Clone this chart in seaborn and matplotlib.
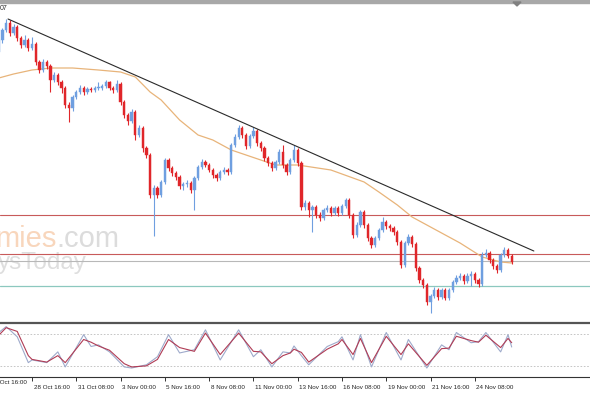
import numpy as np
import pandas as pd
import matplotlib
matplotlib.use("Agg")
import matplotlib.pyplot as plt
import seaborn as sns
from matplotlib.transforms import ScaledTranslation
from matplotlib.patches import Rectangle, Polygon

sns.set_theme(style="white")
plt.rcParams['font.family'] = ['Liberation Sans', 'DejaVu Sans']

# ---------------- data (price in chart units) ----------------
first_open = 278
closes = [290, 300, 307, 297, 303, 292, 285, 290, 282, 286,
          268, 260, 268, 264, 250, 255, 248, 242, 225, 222,
          233, 238, 242, 238, 241, 240, 242, 242, 244, 248,
          242, 240, 246, 228, 215, 209, 218, 195, 202, 182,
          175, 135, 142, 135, 148, 170, 162, 157, 153, 144,
          146, 147, 140, 152, 163, 168, 165, 160, 155, 152,
          158, 160, 158, 185, 193, 202, 195, 184, 194, 199,
          187, 182, 172, 167, 162, 168, 178, 165, 158, 170,
          180, 167, 123, 127, 120, 123, 115, 112, 120, 122,
          117, 122, 117, 124, 130, 115, 95, 105, 118, 105,
          92, 85, 92, 100, 108, 104, 102, 98, 88, 65,
          87, 93, 86, 62, 50, 45, 28, 34, 40, 33,
          40, 32, 40, 48, 52, 54, 49, 54, 56, 50,
          46, 75, 77, 70, 64, 60, 75, 80, 74, 68]
highs = [293, 302, 311, 310, 306, 305, 294, 295, 292, 293,
         288, 270, 271, 270, 266, 258, 257, 250, 244, 228,
         235, 240, 245, 244, 243, 243, 244, 248, 246, 250,
         249, 244, 250, 248, 230, 217, 221, 220, 205, 204,
         184, 177, 145, 144, 150, 172, 172, 164, 159, 155,
         148, 150, 149, 154, 165, 171, 170, 167, 162, 157,
         160, 163, 162, 187, 196, 205, 204, 197, 196, 203,
         201, 189, 184, 174, 169, 170, 181, 185, 167, 172,
         185, 182, 169, 130, 129, 125, 125, 118, 122, 125,
         124, 124, 124, 126, 132, 132, 117, 108, 120, 120,
         107, 94, 94, 102, 113, 110, 106, 104, 100, 90,
         89, 96, 95, 88, 64, 52, 47, 36, 43, 42,
         42, 42, 42, 50, 55, 57, 56, 57, 59, 58,
         52, 78, 81, 79, 72, 66, 77, 83, 82, 76]
lows = [275, 287, 298, 294, 295, 289, 282, 283, 279, 280,
        265, 257, 258, 261, 238, 248, 245, 237, 222, 208,
        219, 231, 236, 235, 236, 238, 238, 240, 240, 242,
        240, 237, 238, 225, 212, 205, 207, 190, 193, 178,
        172, 132, 94, 132, 133, 146, 159, 154, 150, 141,
        140, 143, 137, 120, 150, 161, 163, 158, 152, 149,
        150, 156, 155, 156, 183, 191, 192, 181, 182, 192,
        184, 179, 169, 164, 159, 160, 166, 162, 155, 156,
        168, 164, 120, 120, 113, 98, 112, 109, 110, 118,
        114, 115, 114, 115, 122, 112, 92, 93, 103, 102,
        89, 82, 83, 90, 98, 101, 99, 95, 85, 62,
        63, 85, 83, 59, 47, 42, 25, 17, 32, 30,
        31, 30, 30, 38, 46, 50, 46, 47, 44, 47,
        43, 44, 73, 67, 61, 57, 58, 73, 72, 66]

ma_bars = [0, 4, 9, 14, 20, 27, 33, 37, 41, 44, 49, 54, 58, 63, 67, 71, 75,
           81, 90, 99, 103, 108, 112, 117, 125, 131, 136, 139]
ma_vals = [252, 256, 260, 262, 262, 260, 258, 253, 238, 230, 210, 195, 190,
           180, 175, 170, 165, 165, 160, 148, 138, 125, 113, 103, 87, 73, 68, 67]

trend_bars = [2.5, 145]
trend_vals = [311, 79]

red_levels = [115, 76.5]
gray_level = 69
teal_level = 44

stoch_bars = [0, 2, 5, 8, 9, 13, 16, 18, 23, 25, 27, 30, 34, 36, 40, 43, 46,
              49, 53, 56, 60, 65, 69, 71, 74, 77, 79, 80, 82, 84, 89, 92, 93,
              96, 98, 101, 105, 109, 111, 116, 120, 122, 124, 128, 130, 132,
              136, 138, 139]
stoch_main = [83, 94, 75, 27, 32, 27, 47, 19, 79, 57, 60, 47, 19, 17, 23, 38,
              79, 45, 51, 88, 32, 88, 38, 51, 19, 47, 45, 58, 40, 23, 57, 66,
              75, 32, 79, 19, 83, 32, 70, 17, 60, 51, 83, 64, 66, 83, 47, 79, 56]
stoch_signal = [78, 92, 85, 40, 33, 28, 40, 27, 70, 65, 58, 50, 25, 19, 21, 33,
                70, 55, 48, 82, 42, 82, 48, 47, 25, 40, 45, 52, 46, 28, 52, 62,
                70, 42, 72, 27, 76, 42, 62, 22, 53, 54, 76, 68, 65, 78, 55, 72, 64]
stoch_levels = [80, 20]

tick_bars = [9, 21, 33, 45, 57, 69, 81, 93, 105, 117, 129]
tick_labels = ["28 Oct 16:00", "31 Oct 08:00", "3 Nov 00:00", "5 Nov 16:00",
               "8 Nov 08:00", "11 Nov 00:00", "13 Nov 16:00", "16 Nov 08:00",
               "19 Nov 00:00", "21 Nov 16:00", "24 Nov 08:00"]
partial_bar = -3
partial_label = "25 Oct 16:00"

# ---------------- frame ----------------
W, H = 590, 393
fig = plt.figure(figsize=(W / 100, H / 100), dpi=100)
fig.patch.set_facecolor("white")

def fy(px):
    return 1 - px / H

ax = fig.add_axes([0, fy(320), 1, fy(3) - fy(320)])
ax2 = fig.add_axes([0, fy(377), 1, fy(322.5) - fy(377)])

XL = (0.325, 0.325 + W / 3.69)
for a in (ax, ax2):
    a.set_xlim(*XL)
    a.set_facecolor("white")
    for s in a.spines.values():
        s.set_visible(False)
    a.grid(False)

ax.set_ylim(10, 327)
ax.set_xticks([])
ax.set_yticks([])

df = pd.DataFrame({"bar": np.arange(len(closes)),
                   "close": closes, "high": highs, "low": lows})
df["open"] = [first_open] + closes[:-1]
df["up"] = df["close"] >= df["open"]
bull, bear = "#6f9fe0", "#e0262a"
colors = np.where(df["up"], bull, bear)

# wicks
ax.vlines(df["bar"], df["low"], df["high"], colors=colors, lw=0.8, zorder=3)
# bodies
body_lo = np.minimum(df["open"], df["close"])
body_h = np.maximum(np.abs(df["close"] - df["open"]), 0.8)
ax.bar(df["bar"], body_h, bottom=body_lo, width=0.62, color=colors,
       edgecolor=colors, linewidth=0.3, zorder=4)

# moving average
sns.lineplot(x=ma_bars, y=ma_vals, ax=ax, color="#e8b47a", lw=0.9, zorder=2)

# trendline
ax.plot(trend_bars, trend_vals, color="#2a2a2a", lw=0.8, zorder=5)

# horizontal levels
for lv in red_levels:
    ax.axhline(lv, color="#c85a5a", lw=0.8, zorder=1)
ax.axhline(gray_level, color="#b8b8b8", lw=0.8, zorder=1)
ax.axhline(teal_level, color="#8cc8bf", lw=0.9, zorder=1)

# watermark
def axy(px):
    return (320 - px) / (320 - 3)

ax.text(56 / W, axy(247), "mies", transform=ax.transAxes, ha="right",
        va="baseline", fontsize=21, color="#f8d6bc", zorder=0)
ax.text(56 / W, axy(247), ".com", transform=ax.transAxes, ha="left",
        va="baseline", fontsize=21, color="#dcdcdc", zorder=0)
ax.text(-2 / W, axy(269), "ysToday", transform=ax.transAxes, ha="left",
        va="baseline", fontsize=17.5, color="#dedede", zorder=0)

ax.text(0, axy(9), "07", transform=ax.transAxes, ha="left", va="center",
        fontsize=5, color="#303030")

# ---------------- stochastic ----------------
ax2.set_ylim(0.3, 101.6)
ax2.set_yticks([])
for lv in stoch_levels:
    ax2.axhline(lv, color="#bdbdbd", lw=0.6, ls=(0, (2, 2)), zorder=1)
sns.lineplot(x=stoch_bars, y=stoch_main, ax=ax2, color="#9eaacb", lw=0.8, zorder=2)
sns.lineplot(x=stoch_bars, y=stoch_signal, ax=ax2, color="#b03c55", lw=0.8, zorder=3)

ax2.spines["top"].set_visible(True)
ax2.spines["top"].set_color("#555555")
ax2.spines["top"].set_linewidth(1.6)
ax2.spines["bottom"].set_visible(True)
ax2.spines["bottom"].set_color("#333333")
ax2.spines["bottom"].set_linewidth(0.8)

LS = 4.5
ax2.set_xticks(tick_bars)
ax2.set_xticklabels(tick_labels)
ax2.tick_params(axis="x", direction="out", length=3, width=0.7,
                color="#333333", labelsize=LS, labelcolor="#222222", pad=2.5,
                bottom=True)
off = ScaledTranslation(1.5 / 100, 0, fig.dpi_scale_trans)
for lbl in ax2.get_xticklabels():
    lbl.set_horizontalalignment("left")
    lbl.set_transform(lbl.get_transform() + off)
# label of the tick just left of the visible range, shown cut by the edge
part_off = ScaledTranslation(3.5 / 100, 0, fig.dpi_scale_trans)
ax2.text(partial_bar, -0.05, partial_label,
         transform=ax2.get_xaxis_transform() + part_off,
         ha="left", va="top", fontsize=LS, color="#222222", clip_on=False)
ax2.set_xlabel("")
ax2.set_ylabel("")
ax.set_xlabel("")
ax.set_ylabel("")

# top border band and shift marker
fig.patches.append(Rectangle((0, fy(2.5)), 1, 2.5 / H, transform=fig.transFigure,
                             color="#a8a8a8", zorder=10))
fig.patches.append(Polygon([(513 / W, fy(2)), (521 / W, fy(2)), (517 / W, fy(6))],
                           closed=True, transform=fig.transFigure,
                           color="#808080", zorder=11))

fig.savefig("out.png", dpi=100)
